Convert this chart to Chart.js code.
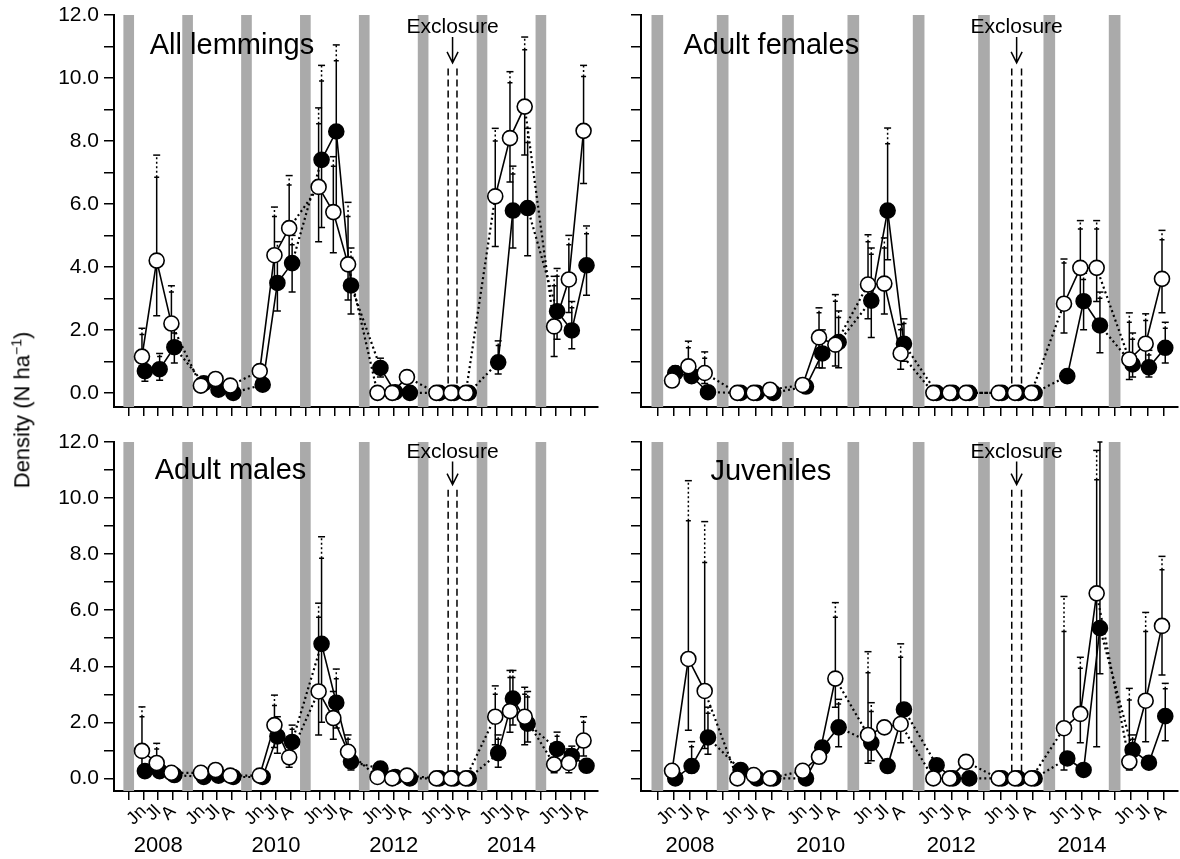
<!DOCTYPE html>
<html>
<head>
<meta charset="utf-8">
<script src="https://cdn.jsdelivr.net/npm/chart.js@4.4.1/dist/chart.umd.min.js"></script>
<style>
body { margin: 0; background: #fff; width: 1180px; height: 859px; position: relative; overflow: hidden; font-family: "Liberation Sans", Arial, sans-serif; }
.panel { position: absolute; }
#ylab { position: absolute; left: 22px; top: 410px; transform: translate(-50%, -50%) rotate(-90deg); white-space: nowrap; font-size: 22px; color: #000; }
#ylab sup { font-size: 14px; }
</style>
</head>
<body>
<div class="panel" style="left:0;top:0"><canvas id="c0" width="600" height="420"></canvas></div>
<div class="panel" style="left:620px;top:0"><canvas id="c1" width="560" height="420"></canvas></div>
<div class="panel" style="left:0;top:420px"><canvas id="c2" width="600" height="439"></canvas></div>
<div class="panel" style="left:620px;top:420px"><canvas id="c3" width="560" height="439"></canvas></div>
<div id="ylab">Density (N ha<sup>−1</sup>)</div>
<script>
// x positions: each year = winter, Jn, Jl, A
const years = ['2008', '2009', '2010', '2011', '2012', '2013', '2014', '2015'];
const monthTicks = ['', 'Jn', 'Jl', 'A'];
const yearLabels = ['2008', '2010', '2012', '2014'];
const yearTickPos = [2, 10, 18, 26];
const winters = [0, 4, 8, 12, 16, 20, 24, 28];
const exclX = [21.7, 22.3];
const yTicks = [0, 1, 2, 3, 4, 5, 6, 7, 8, 9, 10, 11, 12];

// All lemmings (open = white, filled = black), Jn/Jl/A per year
const allW = [1.15, 4.2, 2.2, 0.23, 0.44, 0.23, 0.69, 4.37, 5.23, 6.54, 5.74, 4.08, 0, 0, 0.5, 0, 0, 0, 6.24, 8.09, 9.09, 2.11, 3.6, 8.32];
const allB = [0.69, 0.75, 1.45, 0.3, 0.1, 0.0, 0.26, 3.49, 4.12, 7.4, 8.3, 3.41, 0.79, 0.02, 0.0, 0, 0, 0, 0.97, 5.79, 5.87, 2.59, 1.98, 4.05];
// error bars: [low, high (solid), top (dotted)]
const allWErr = [[0.85, 1.85, 2.05], [2.45, 6.85, 7.55], [1.55, 3.2, 3.4], null, null, null, null, [3.5, 5.6, 5.9], [4.1, 6.6, 6.9],
  [4.8, 8.55, 9.05], [4.45, 7.2, 7.5], [2.95, 5.6, 6.05], null, null, null, null, null, null,
  [4.65, 8.0, 8.4], [6.7, 9.85, 10.2], [7.55, 10.9, 11.3], [1.15, 3.4, 3.7], [2.55, 4.7, 5.0], [6.65, 10.05, 10.4]];
const allBErr = [[0.37, 1.0, 1.1], [0.4, 1.15, 1.25], [0.95, 1.9, 2.1], null, null, null, null, [2.6, 4.5, 4.8], [3.2, 4.7, 5.0],
  [5.25, 9.9, 10.4], [5.6, 10.55, 11.05], [2.5, 4.3, 4.6], [0.5, 1.0, 1.1], null, null, null, null, null,
  [0.6, 1.5, 1.65], [4.6, 6.95, 7.2], [4.35, 7.95, 8.4], [1.7, 3.7, 3.95], [1.4, 2.7, 2.9], [3.1, 5.05, 5.3]];

// Adult females
const femW = [0.39, 0.84, 0.63, 0.0, 0.0, 0.1, 0.25, 1.76, 1.53, 3.44, 3.47, 1.25, 0, 0, 0, 0, 0, 0, 2.83, 3.97, 3.97, 1.06, 1.56, 3.62];
const femB = [0.63, 0.53, 0.02, 0, 0, 0, 0.2, 1.25, 1.61, 2.93, 5.79, 1.56, 0, 0, 0, 0, 0, 0, 0.53, 2.91, 2.14, 0.9, 0.81, 1.43];
const femWErr = [null, [0.4, 1.43, 1.64], [0.3, 1.1, 1.3], null, null, null, null, [0.8, 2.54, 2.7], [0.85, 2.91, 3.12],
  [2.35, 4.8, 5.02], [2.5, 4.6, 4.92], [0.75, 2.0, 2.17], null, null, null, null, null, null,
  [1.9, 4.12, 4.25], [2.9, 5.2, 5.47], [2.9, 5.2, 5.47], [0.42, 2.24, 2.54], [0.8, 2.3, 2.51], [2.54, 4.86, 5.16]];
const femBErr = [[0.45, 0.8, 0.85], null, null, null, null, null, null, [0.79, 1.86, 2.0], [0.8, 2.39, 2.6],
  [1.76, 4.4, 4.6], [4.23, 7.91, 8.41], [1.0, 2.2, 2.35], null, null, null, null, null, null,
  null, [2.0, 3.6, 3.8], [1.27, 3.0, 3.2], [0.5, 1.7, 1.9], [0.5, 1.2, 1.35], [0.95, 2.05, 2.24]];

// Adult males
const malW = [0.98, 0.55, 0.2, 0.2, 0.3, 0.1, 0.1, 1.9, 0.75, 3.1, 2.15, 0.95, 0.05, 0.0, 0.1, 0, 0, 0, 2.2, 2.4, 2.2, 0.5, 0.55, 1.35];
const malB = [0.26, 0.26, 0.12, 0.05, 0.1, 0.05, 0.05, 1.5, 1.3, 4.8, 2.7, 0.6, 0.35, 0.05, 0.0, 0, 0, 0, 0.9, 2.85, 1.95, 1.05, 0.8, 0.45];
const malWErr = [[0.3, 2.2, 2.55], [0.2, 1.05, 1.25], null, null, null, null, null, [1.1, 2.6, 2.97], [0.4, 1.1, 1.2],
  [1.55, 5.75, 6.25], [1.4, 2.9, 3.1], [0.5, 1.4, 1.55], null, null, null, null, null, null,
  [1.2, 3.0, 3.3], [1.65, 3.6, 3.85], [1.2, 3.0, 3.25], [0.2, 0.9, 1.0], [0.2, 0.9, 1.05], [0.8, 2.0, 2.2]];
const malBErr = [null, null, null, null, null, null, null, [0.9, 2.0, 2.2], [0.8, 1.75, 1.9],
  [2.0, 7.85, 8.62], [1.8, 3.55, 3.9], [0.3, 0.95, 1.05], null, null, null, null, null, null,
  [0.4, 1.4, 1.55], [1.9, 3.6, 3.85], [1.3, 2.9, 3.1], [0.6, 1.5, 1.65], [0.5, 1.05, 1.15], null];

// Juveniles
const juvW = [0.27, 4.26, 3.12, 0.0, 0.12, 0.0, 0.27, 0.77, 3.56, 1.55, 1.82, 1.94, 0, 0, 0.59, 0, 0, 0, 1.79, 2.3, 6.6, 0.59, 2.77, 5.44];
const juvB = [0.0, 0.44, 1.46, 0.3, 0.0, 0.0, 0.0, 1.1, 1.82, 1.27, 0.44, 2.46, 0.47, 0.0, 0.0, 0, 0, 0, 0.71, 0.3, 5.36, 1.01, 0.56, 2.22];
const juvWErr = [null, [1.72, 9.19, 10.62], [1.07, 7.7, 9.16], null, null, null, null, null, [2.54, 5.75, 6.27],
  [0.54, 3.77, 4.52], null, [1.27, 4.32, 4.8], null, null, null, null, null, null,
  [0.3, 5.24, 6.49], [1.27, 3.93, 4.32], [1.13, 10.65, 11.7], [0.3, 2.8, 3.21], [1.31, 5.24, 5.92], [3.69, 7.44, 7.92]];
const juvBErr = [null, [0.2, 1.13, 1.31], [0.86, 2.32, 2.54], null, null, null, null, null, [1.13, 2.65, 2.82],
  [0.63, 2.39, 2.7], null, null, null, null, null, null, null, null,
  null, null, [3.73, 12.0, null], [0.5, 1.4, 1.55], null, [1.34, 3.2, 3.39]];

const Y_MIN = -0.45, Y_MAX = 12;
const X_MIN = -1, X_MAX = 31.88;
const FONT = '"Liberation Sans", Arial, sans-serif';

function toPoints(vals, off) {
  return vals.map((v, i) => ({ x: Math.floor(i / 3) * 4 + (i % 3) + 1 + off, y: v }));
}

function decor(p) {
  return {
    id: 'decor' + p.id,
    beforeDatasetDraw(chart, args) {
      if (chart.data.datasets[args.index].label !== 'black') return;
      const ctx = chart.ctx, ys = chart.scales.y, xs = chart.scales.x, a = chart.chartArea;
      ctx.save();
      ctx.beginPath();
      ctx.rect(a.left, a.top - 1, a.right - a.left, a.bottom - a.top + 1);
      ctx.clip();
      ctx.strokeStyle = '#000';
      ctx.lineWidth = 1.5;
      [[p.w, p.wErr, -0.1], [p.b, p.bErr, 0.1]].forEach(([vals, errs, off]) => {
        const pts = toPoints(vals, off);
        errs.forEach((e, i) => {
          if (!e) return;
          const x = xs.getPixelForValue(pts[i].x);
          const yLo = ys.getPixelForValue(e[0]), yHi = ys.getPixelForValue(e[1]);
          ctx.setLineDash([]);
          ctx.beginPath();
          ctx.moveTo(x, yLo); ctx.lineTo(x, yHi);
          ctx.moveTo(x - 3.5, yLo); ctx.lineTo(x + 3.5, yLo);
          ctx.moveTo(x - 2.5, yHi); ctx.lineTo(x + 2.5, yHi);
          ctx.stroke();
          if (e[2] != null) {
            const yTop = ys.getPixelForValue(e[2]);
            ctx.setLineDash([2, 2.5]);
            ctx.beginPath();
            ctx.moveTo(x, yHi); ctx.lineTo(x, yTop);
            ctx.stroke();
            ctx.setLineDash([]);
            ctx.beginPath();
            ctx.moveTo(x - 3.5, yTop); ctx.lineTo(x + 3.5, yTop);
            ctx.stroke();
          }
        });
      });
      ctx.restore();
    },
    afterDatasetsDraw(chart) {
      const ctx = chart.ctx, ys = chart.scales.y, xs = chart.scales.x;
      ctx.save();
      ctx.fillStyle = '#000';
      ctx.strokeStyle = '#000';
      // panel title
      ctx.font = '29px ' + FONT;
      ctx.textAlign = 'left';
      ctx.textBaseline = 'middle';
      ctx.fillText(p.title, xs.getPixelForValue(p.titleAt[0]), ys.getPixelForValue(p.titleAt[1]));
      // exclosure label and arrow
      const ax = xs.getPixelForValue(22);
      ctx.font = '21px ' + FONT;
      ctx.textAlign = 'center';
      ctx.fillText('Exclosure', ax, ys.getPixelForValue(11.62));
      const y0 = ys.getPixelForValue(11.3), y1 = ys.getPixelForValue(10.48);
      ctx.lineWidth = 1.5;
      ctx.beginPath();
      ctx.moveTo(ax, y0); ctx.lineTo(ax, y1);
      ctx.moveTo(ax - 5.5, y1 - 11); ctx.lineTo(ax, y1); ctx.lineTo(ax + 5.5, y1 - 11);
      ctx.stroke();
      ctx.restore();
    }
  };
}

function noPad(s) {
  s.paddingLeft = 0; s.paddingRight = 0; s.paddingTop = 0; s.paddingBottom = 0;
}

function makePanel(p) {
  const isBottom = p.bottom;
  const datasets = [
    {
      label: 'white', data: toPoints(p.w, -0.1), order: 1,
      borderColor: '#000', borderWidth: 1.6, pointRadius: 7.5, pointBorderWidth: 1.6,
      pointBackgroundColor: '#fff', pointBorderColor: '#000',
      segment: {
        borderDash: ctx => (ctx.p0DataIndex % 3 === 2 ? [2, 3] : undefined),
        borderWidth: ctx => (ctx.p0DataIndex % 3 === 2 ? 2.2 : undefined)
      }
    },
    {
      label: 'black', data: toPoints(p.b, 0.1), order: 2,
      borderColor: '#000', borderWidth: 1.6, pointRadius: 7.5, pointBorderWidth: 1.6,
      pointBackgroundColor: '#000', pointBorderColor: '#000',
      segment: {
        borderDash: ctx => (ctx.p0DataIndex % 3 === 2 ? [2, 3] : undefined),
        borderWidth: ctx => (ctx.p0DataIndex % 3 === 2 ? 2.2 : undefined)
      }
    },
    {
      label: 'winter', type: 'bar', order: 5,
      data: winters.map(w => ({ x: w, y: [Y_MIN, Y_MAX] })),
      backgroundColor: '#aaaaaa', barThickness: p.barW, borderWidth: 0
    }
  ];
  exclX.forEach(x => datasets.push({
    label: 'excl', data: [{ x: x, y: 10.3 }, { x: x, y: 0 }], order: 4,
    borderColor: '#000', borderWidth: 1.5, borderDash: [7, 4], pointRadius: 0
  }));

  const scales = {
    x: {
      type: 'linear', min: X_MIN, max: X_MAX, offset: false,
      afterBuildTicks: s => { s.ticks = Array.from({ length: 32 }, (_, i) => ({ value: i })); },
      afterFit: s => { s.height = isBottom ? 40 : 13; noPad(s); },
      grid: { drawOnChartArea: false, drawTicks: true, tickLength: 9, color: '#000', lineWidth: 1.5, offset: false },
      border: { color: '#000', width: 2 },
      ticks: {
        autoSkip: false, minRotation: 45, maxRotation: 45, padding: 1,
        color: '#000', font: { family: FONT, size: 18 },
        callback: v => (isBottom ? monthTicks[v % 4] : '')
      }
    },
    y: {
      type: 'linear', min: Y_MIN, max: Y_MAX,
      afterBuildTicks: s => { s.ticks = yTicks.map(v => ({ value: v })); },
      afterFit: s => { s.width = p.yW; noPad(s); },
      grid: { drawOnChartArea: false, drawTicks: true, tickLength: 10, color: '#000', lineWidth: 1.5 },
      border: { color: '#000', width: 2 },
      ticks: {
        padding: 5, color: '#000', font: { family: FONT, size: 21 },
        callback: v => (p.yLabels && v % 2 === 0 ? v.toFixed(1) : '')
      }
    }
  };
  if (isBottom) {
    scales.x2 = {
      type: 'linear', position: 'bottom', min: X_MIN, max: X_MAX, offset: false,
      afterBuildTicks: s => { s.ticks = yearTickPos.map(v => ({ value: v })); },
      afterFit: s => { s.height = 28; noPad(s); },
      grid: { display: false, drawTicks: false },
      border: { display: false },
      ticks: {
        autoSkip: false, maxRotation: 0, padding: 2, color: '#000', font: { family: FONT, size: 22 },
        callback: (v, i) => yearLabels[i]
      }
    };
  }

  return new Chart(document.getElementById(p.id), {
    type: 'line',
    data: { datasets: datasets },
    options: {
      responsive: false,
      animation: false,
      devicePixelRatio: 1,
      layout: { autoPadding: false, padding: { top: isBottom ? 22 : 15, right: 2, left: 0, bottom: 0 } },
      plugins: { legend: { display: false }, tooltip: { enabled: false } },
      scales: scales
    },
    plugins: [decor(p)]
  });
}

makePanel({ id: 'c0', w: allW, b: allB, wErr: allWErr, bErr: allBErr, title: 'All lemmings', titleAt: [1.43, 11.0], yW: 114, yLabels: true, bottom: false, barW: 10 });
makePanel({ id: 'c1', w: femW, b: femB, wErr: femWErr, bErr: femBErr, title: 'Adult females', titleAt: [1.6, 11.0], yW: 21, yLabels: false, bottom: false, barW: 11 });
makePanel({ id: 'c2', w: malW, b: malB, wErr: malWErr, bErr: malBErr, title: 'Adult males', titleAt: [1.77, 10.97], yW: 114, yLabels: true, bottom: true, barW: 10 });
makePanel({ id: 'c3', w: juvW, b: juvB, wErr: juvWErr, bErr: juvBErr, title: 'Juveniles', titleAt: [3.25, 10.94], yW: 21, yLabels: false, bottom: true, barW: 11 });
</script>
</body>
</html>
